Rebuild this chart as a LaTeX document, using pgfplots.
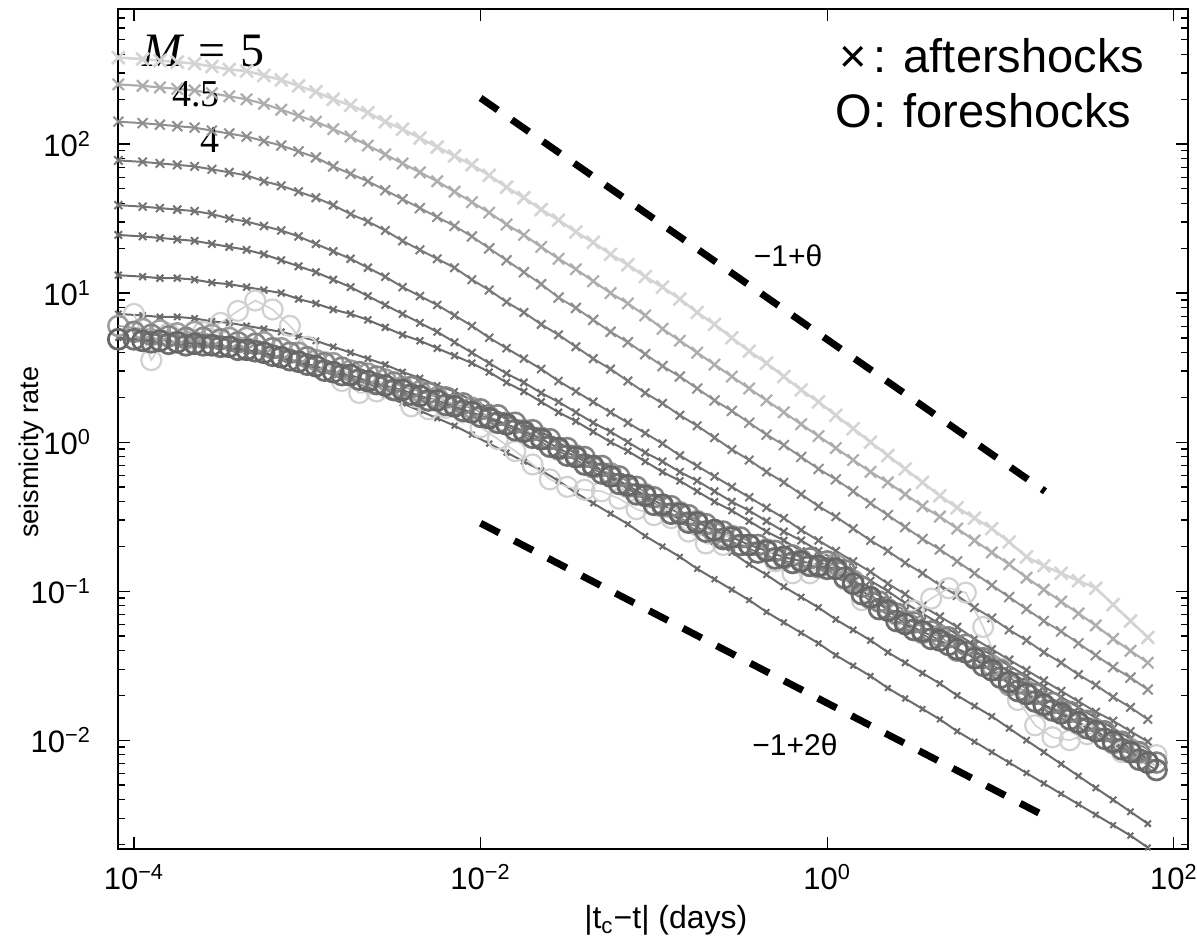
\documentclass[border=0pt]{standalone}
\usepackage{fontspec}
\setmainfont{Liberation Sans}
\newfontfamily\mfont{Liberation Serif}
\usepackage{pgfplots}
\pgfplotsset{compat=1.18}
\usepackage{pgfplotstable}

% log10 of |tc-t| (days) and log10 of the seismicity rate
\pgfplotstableread{
lt A1 A2 A3 A4 A5 A6 A7 A8 A9 F2 F4
-4.09 2.58 2.40 2.15 1.89 1.59 1.39 1.12 0.86 0.70 0.78 0.69
-3.95 2.57 2.39 2.14 1.88 1.58 1.38 1.11 0.85 0.69 0.76 0.68
-3.85 2.56 2.38 2.13 1.87 1.57 1.37 1.10 0.84 0.68 0.75 0.68
-3.75 2.55 2.37 2.12 1.86 1.56 1.36 1.10 0.84 0.67 0.73 0.67
-3.65 2.54 2.36 2.11 1.85 1.55 1.35 1.09 0.83 0.67 0.74 0.66
-3.55 2.52 2.34 2.09 1.83 1.53 1.33 1.07 0.81 0.65 0.72 0.65
-3.45 2.50 2.32 2.07 1.81 1.50 1.31 1.06 0.80 0.63 0.70 0.64
-3.35 2.49 2.30 2.05 1.79 1.48 1.29 1.04 0.78 0.61 0.70 0.62
-3.25 2.46 2.27 2.02 1.75 1.45 1.26 1.02 0.76 0.59 0.67 0.60
-3.15 2.43 2.23 1.99 1.72 1.42 1.22 1.00 0.74 0.56 0.63 0.57
-3.05 2.39 2.19 1.95 1.68 1.38 1.18 0.96 0.71 0.53 0.60 0.54
-2.95 2.35 2.15 1.91 1.64 1.33 1.14 0.93 0.68 0.49 0.55 0.51
-2.85 2.30 2.10 1.85 1.59 1.28 1.09 0.89 0.64 0.45 0.53 0.47
-2.75 2.26 2.05 1.80 1.53 1.23 1.04 0.86 0.60 0.41 0.48 0.45
-2.65 2.21 1.99 1.75 1.48 1.17 0.98 0.82 0.56 0.37 0.46 0.41
-2.55 2.15 1.93 1.69 1.42 1.11 0.92 0.77 0.52 0.31 0.42 0.38
-2.45 2.10 1.87 1.63 1.35 1.04 0.86 0.72 0.47 0.26 0.37 0.35
-2.35 2.04 1.81 1.57 1.29 0.98 0.80 0.68 0.43 0.21 0.34 0.31
-2.25 1.98 1.75 1.51 1.23 0.92 0.74 0.63 0.38 0.16 0.30 0.28
-2.15 1.92 1.68 1.45 1.17 0.85 0.67 0.58 0.34 0.11 0.25 0.24
-2.05 1.86 1.61 1.38 1.09 0.78 0.60 0.53 0.28 0.05 0.23 0.20
-1.95 1.79 1.54 1.30 1.02 0.70 0.53 0.47 0.23 -0.01 0.17 0.16
-1.85 1.71 1.46 1.22 0.94 0.63 0.46 0.40 0.18 -0.07 0.12 0.12
-1.75 1.64 1.39 1.14 0.87 0.56 0.40 0.34 0.12 -0.13 0.08 0.07
-1.65 1.56 1.31 1.06 0.79 0.49 0.33 0.27 0.07 -0.19 0.03 0.02
-1.55 1.49 1.23 0.97 0.72 0.41 0.27 0.20 0.00 -0.26 -0.05 -0.04
-1.45 1.41 1.16 0.90 0.64 0.34 0.20 0.14 -0.08 -0.34 -0.09 -0.10
-1.35 1.34 1.08 0.82 0.56 0.27 0.13 0.07 -0.15 -0.41 -0.17 -0.16
-1.25 1.26 1.00 0.74 0.49 0.20 0.07 0.00 -0.23 -0.48 -0.21 -0.23
-1.15 1.19 0.93 0.67 0.41 0.13 0.00 -0.06 -0.30 -0.55 -0.30 -0.29
-1.05 1.11 0.85 0.59 0.33 0.06 -0.07 -0.13 -0.37 -0.63 -0.35 -0.36
-0.95 1.04 0.76 0.51 0.26 -0.01 -0.13 -0.20 -0.45 -0.70 -0.43 -0.42
-0.85 0.96 0.68 0.44 0.18 -0.09 -0.20 -0.26 -0.52 -0.77 -0.47 -0.48
-0.75 0.87 0.60 0.36 0.11 -0.16 -0.26 -0.33 -0.60 -0.85 -0.53 -0.54
-0.65 0.79 0.52 0.28 0.03 -0.23 -0.33 -0.40 -0.67 -0.92 -0.61 -0.59
-0.55 0.70 0.44 0.21 -0.05 -0.30 -0.40 -0.46 -0.74 -0.99 -0.63 -0.64
-0.45 0.61 0.36 0.13 -0.12 -0.37 -0.46 -0.53 -0.82 -1.06 -0.69 -0.69
-0.35 0.53 0.28 0.05 -0.20 -0.44 -0.53 -0.60 -0.89 -1.14 -0.72 -0.73
-0.25 0.44 0.20 -0.02 -0.27 -0.51 -0.60 -0.66 -0.97 -1.21 -0.78 -0.77
-0.15 0.35 0.12 -0.10 -0.35 -0.59 -0.66 -0.73 -1.04 -1.28 -0.79 -0.80
-0.05 0.27 0.04 -0.18 -0.43 -0.66 -0.73 -0.80 -1.11 -1.35 -0.84 -0.83
0.05 0.18 -0.04 -0.25 -0.50 -0.73 -0.79 -0.86 -1.19 -1.43 -0.82 -0.85
0.15 0.09 -0.12 -0.33 -0.58 -0.80 -0.86 -0.93 -1.26 -1.50 -0.93 -0.95
0.25 0.00 -0.20 -0.41 -0.66 -0.87 -0.93 -1.00 -1.33 -1.57 -1.05 -1.04
0.35 -0.09 -0.27 -0.49 -0.73 -0.95 -1.00 -1.06 -1.41 -1.65 -1.12 -1.13
0.45 -0.18 -0.35 -0.57 -0.81 -1.02 -1.08 -1.13 -1.48 -1.72 -1.20 -1.22
0.55 -0.27 -0.43 -0.65 -0.88 -1.10 -1.15 -1.20 -1.55 -1.79 -1.28 -1.27
0.65 -0.36 -0.50 -0.72 -0.96 -1.17 -1.22 -1.26 -1.62 -1.86 -1.30 -1.33
0.75 -0.44 -0.58 -0.80 -1.03 -1.24 -1.29 -1.33 -1.70 -1.94 -1.40 -1.39
0.85 -0.51 -0.66 -0.88 -1.11 -1.32 -1.36 -1.40 -1.77 -2.01 -1.44 -1.45
0.95 -0.58 -0.74 -0.96 -1.18 -1.39 -1.43 -1.47 -1.84 -2.08 -1.50 -1.53
1.05 -0.67 -0.82 -1.04 -1.26 -1.46 -1.50 -1.54 -1.92 -2.15 -1.63 -1.61
1.15 -0.77 -0.91 -1.12 -1.33 -1.53 -1.57 -1.61 -2.00 -2.22 -1.67 -1.69
1.25 -0.83 -0.99 -1.20 -1.41 -1.60 -1.64 -1.69 -2.08 -2.29 -1.77 -1.76
1.35 -0.88 -1.07 -1.27 -1.48 -1.67 -1.71 -1.76 -2.16 -2.36 -1.80 -1.82
1.45 -0.93 -1.15 -1.35 -1.56 -1.74 -1.78 -1.84 -2.24 -2.43 -1.89 -1.88
1.55 -0.98 -1.23 -1.43 -1.63 -1.81 -1.85 -1.91 -2.32 -2.50 -1.93 -1.94
1.65 -1.09 -1.32 -1.51 -1.71 -1.87 -1.92 -1.98 -2.40 -2.57 -2.02 -2.01
1.75 -1.20 -1.40 -1.58 -1.78 -1.94 -1.99 -2.06 -2.48 -2.64 -2.06 -2.08
1.85 -1.31 -1.48 -1.66 -1.86 -2.01 -2.06 -2.13 -2.56 -2.72 -2.15 -2.15
}\aft

\pgfplotstableread{
lt F1 F3 F5
-4.0 0.86 0.74 0.69
-3.9 0.55 0.72 0.67
-3.8 0.73 0.71 0.66
-3.7 0.69 0.70 0.65
-3.6 0.74 0.70 0.65
-3.5 0.80 0.69 0.64
-3.4 0.88 0.67 0.62
-3.3 0.95 0.66 0.61
-3.2 0.89 0.63 0.58
-3.1 0.78 0.60 0.55
-3.0 0.64 0.57 0.52
-2.9 0.54 0.53 0.48
-2.8 0.41 0.50 0.45
-2.7 0.33 0.47 0.42
-2.6 0.34 0.44 0.39
-2.5 0.35 0.40 0.35
-2.4 0.24 0.37 0.32
-2.3 0.22 0.33 0.28
-2.2 0.23 0.30 0.25
-2.1 0.20 0.26 0.21
-2.0 0.10 0.22 0.17
-1.9 0.02 0.18 0.13
-1.8 -0.06 0.13 0.08
-1.7 -0.15 0.08 0.03
-1.6 -0.25 0.02 -0.03
-1.5 -0.30 -0.04 -0.09
-1.4 -0.32 -0.10 -0.15
-1.3 -0.33 -0.16 -0.21
-1.2 -0.38 -0.23 -0.28
-1.1 -0.45 -0.30 -0.35
-1.0 -0.49 -0.37 -0.42
-0.9 -0.51 -0.43 -0.48
-0.8 -0.60 -0.49 -0.54
-0.7 -0.68 -0.55 -0.60
-0.6 -0.69 -0.60 -0.65
-0.5 -0.69 -0.64 -0.69
-0.4 -0.69 -0.69 -0.74
-0.3 -0.80 -0.73 -0.78
-0.2 -0.88 -0.76 -0.81
-0.1 -0.88 -0.78 -0.83
0.0 -0.81 -0.80 -0.85
0.1 -0.92 -0.86 -0.91
0.2 -1.06 -0.97 -1.02
0.3 -1.12 -1.07 -1.12
0.4 -1.16 -1.15 -1.20
0.5 -1.13 -1.21 -1.26
0.6 -1.05 -1.27 -1.32
0.7 -0.98 -1.31 -1.36
0.8 -1.01 -1.36 -1.41
0.9 -1.24 -1.45 -1.50
1.0 -1.52 -1.53 -1.58
1.1 -1.73 -1.62 -1.67
1.2 -1.90 -1.69 -1.74
1.3 -1.98 -1.75 -1.80
1.4 -2.00 -1.81 -1.86
1.5 -1.96 -1.87 -1.92
1.6 -1.94 -1.94 -1.99
1.7 -2.08 -2.01 -2.06
1.8 -2.09 -2.08 -2.13
1.9 -2.10 -2.15 -2.20
}\fore

\begin{document}
\begin{tikzpicture}
\begin{axis}[
    scale only axis,
    width=535pt,
    height=420pt,
    xmin=-4.092, xmax=2.082,
    ymin=-2.73, ymax=2.906,
    axis line style={line width=1.1pt},
    tick style={line width=0.6pt, black},
    tick align=inside,
    major tick length=6pt,
    minor tick length=3.5pt,
    xtick={-4,-2,0,2},
    xticklabels={10\textsuperscript{−4}, 10\textsuperscript{−2}, 10\textsuperscript{0}, 10\textsuperscript{2}},
    ytick={-2,-1,0,1,2},
    yticklabels={10\textsuperscript{−2}, 10\textsuperscript{−1}, 10\textsuperscript{0}, 10\textsuperscript{1}, 10\textsuperscript{2}},
    minor ytick={-2.699,-2.523,-2.398,-2.301,-2.222,-2.155,-2.097,-2.046,
                 -1.699,-1.523,-1.398,-1.301,-1.222,-1.155,-1.097,-1.046,
                 -0.699,-0.523,-0.398,-0.301,-0.222,-0.155,-0.097,-0.046,
                 0.301,0.477,0.602,0.699,0.778,0.845,0.903,0.954,
                 1.301,1.477,1.602,1.699,1.778,1.845,1.903,1.954,
                 2.301,2.477,2.602,2.699,2.778,2.845,2.903},
    tick label style={font=\fontsize{15.5}{18}\selectfont},
    xticklabel style={yshift=-4pt},
    yticklabel style={xshift=-10pt},
    xlabel={|t\textsubscript{c}−t| (days)},
    xlabel style={font=\fontsize{16}{19}\selectfont, at={(axis description cs:0.512,-0.0845)}, anchor=center},
    ylabel={seismicity rate},
    ylabel style={font=\fontsize{13.5}{16}\selectfont, at={(axis description cs:-0.0804,0.4726)}, anchor=center},
]
% aftershocks
\addplot[black!17, line width=1.3pt, mark=x, mark size=4.5pt, mark options={line width=1.3pt}] table[x=lt, y=A1]{\aft};
\addplot[black!32, line width=1.1pt, mark=x, mark size=4pt, mark options={line width=1.1pt}] table[x=lt, y=A2]{\aft};
\addplot[black!44, line width=1pt, mark=x, mark size=3.5pt, mark options={line width=1pt}] table[x=lt, y=A3]{\aft};
\addplot[black!52, line width=1pt, mark=x, mark size=3pt, mark options={line width=1pt}] table[x=lt, y=A4]{\aft};
\addplot[black!55, line width=1pt, mark=x, mark size=2.8pt, mark options={line width=1pt}] table[x=lt, y=A5]{\aft};
\addplot[black!57, line width=1pt, mark=x, mark size=2.6pt, mark options={line width=1pt}] table[x=lt, y=A6]{\aft};
\addplot[black!58, line width=1pt, mark=x, mark size=2.4pt, mark options={line width=1pt}] table[x=lt, y=A7]{\aft};
\addplot[black!58, line width=1pt, mark=x, mark size=2.2pt, mark options={line width=1pt}] table[x=lt, y=A8]{\aft};
\addplot[black!58, line width=1pt, mark=x, mark size=2pt, mark options={line width=1pt}] table[x=lt, y=A9]{\aft};
% foreshocks
\addplot[black!18, line width=0.8pt, mark=o, mark size=5pt, mark options={line width=1.1pt}] table[x=lt, y=F1]{\fore};
\addplot[black!38, line width=0.8pt, mark=o, mark size=5pt, mark options={line width=1.3pt}] table[x=lt, y=F2]{\aft};
\addplot[black!48, line width=0.8pt, mark=o, mark size=5pt, mark options={line width=1.3pt}] table[x=lt, y=F3]{\fore};
\addplot[black!56, line width=0.8pt, mark=o, mark size=5pt, mark options={line width=1.4pt}] table[x=lt, y=F5]{\fore};
\addplot[black!60, line width=0.8pt, mark=o, mark size=5pt, mark options={line width=1.4pt}] table[x=lt, y=F4]{\aft};
% reference slopes
\addplot[black, line width=3.5pt, dash pattern=on 10.5pt off 8.5pt] coordinates {(-2.0,2.309) (1.257,-0.33)};
\addplot[black, line width=3.5pt, dash pattern=on 10.5pt off 8.5pt] coordinates {(-2.0,-0.544) (1.274,-2.52)};
\node[font=\fontsize{15}{18}\selectfont] at (axis cs:-0.226,1.248) {−1+θ};
\node[font=\fontsize{15}{18}\selectfont] at (axis cs:-0.186,-2.034) {−1+2θ};
% magnitudes
\node[anchor=base west, inner sep=0pt, font=\mfont\fontsize{24}{28}\selectfont] at (axis cs:-3.954,2.517) {\textit{M}\hspace{0.3em}=\hspace{0.3em}5};
\node[anchor=base west, inner sep=0pt, font=\mfont\fontsize{19}{22}\selectfont] at (axis cs:-3.78,2.255) {4.5};
\node[anchor=base west, inner sep=0pt, font=\mfont\fontsize{19}{22}\selectfont] at (axis cs:-3.619,1.94) {4};
% key
\node[anchor=base west, inner sep=0pt, font=\fontsize{23.5}{28}\selectfont] at (axis cs:0.0335,2.483) {\makebox[0.85em][c]{×}: aftershocks};
\node[anchor=base west, inner sep=0pt, font=\fontsize{23.5}{28}\selectfont] at (axis cs:0.0335,2.114) {\makebox[0.85em][c]{O}: foreshocks};
\coordinate (sw) at (rel axis cs:0,0);
\coordinate (ne) at (rel axis cs:1,1);
\end{axis}
\pgfresetboundingbox
\path[use as bounding box] ([xshift=-59pt,yshift=-47.5pt]sw) rectangle ([xshift=4.5pt,yshift=4.5pt]ne);
\end{tikzpicture}
\end{document}
